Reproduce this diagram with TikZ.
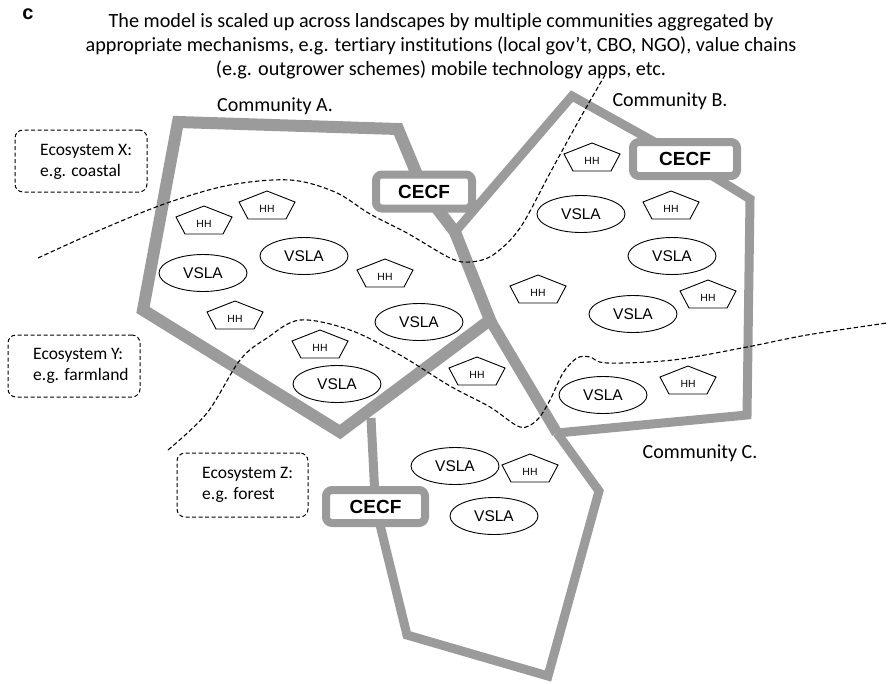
\documentclass[tikz,border=0pt]{standalone}
\usepackage{fontspec}
\setmainfont{Carlito}[Ligatures=NoCommon]
\newfontfamily\arialf{Liberation Sans}
\usetikzlibrary{shapes.geometric}
\pgfdeclarelayer{background}
\pgfsetlayers{background,main}
\definecolor{commgray}{RGB}{155,155,155}
\begin{document}
\begin{tikzpicture}[x=1pt,y=-1pt,
  titletxt/.style={font=\fontsize{20.2}{24}\selectfont, align=center, inner sep=0pt},
  commtxt/.style={font=\fontsize{20}{22}\selectfont, inner sep=0pt},
  ecobox/.style={draw, line width=1pt, dash pattern=on 4pt off 2.5pt, rounded corners=8pt, minimum width=132pt, minimum height=62pt, inner sep=0pt},
  ecotxt/.style={font=\fontsize{17.5}{20.5}\selectfont, align=left, inner sep=0pt, anchor=west},
  ecoline/.style={line width=1.1pt, dash pattern=on 4.5pt off 2.5pt},
  vsla/.style={ellipse, draw, line width=0.9pt, fill=white, minimum width=88pt, minimum height=37pt, inner sep=0pt, font=\arialf\fontsize{15.5}{18}\selectfont},
  hhtxt/.style={font=\arialf\fontsize{10.4}{12}\selectfont, inner sep=0pt},
  cecf/.style={draw=commgray, line width=8pt, fill=white, rounded corners=6pt, minimum width=96pt, minimum height=34pt, inner sep=0pt, font=\arialf\bfseries\fontsize{19}{22}\selectfont},
  bigline/.style={draw=commgray, line width=12pt, line join=miter},
  midline/.style={draw=commgray, line width=9pt, line join=miter},
  hhpent/.pic={
    \path[draw=black, line width=0.9pt, fill=white] (0,-18)--(28,-7)--(19,10)--(-19,10)--(-28,-7)--cycle;
    \node[hhtxt] (-t) at (0,0) {HH};
  }
]
\useasboundingbox (0,0) rectangle (888,683);

% panel letter and title
\node[font=\arialf\bfseries\fontsize{20}{22}\selectfont, inner sep=0pt] (lc) at (28,14) {c};
\node[titletxt] (title) at (441,46) {The model is scaled up across landscapes by multiple communities aggregated by\\appropriate mechanisms, e.g. tertiary institutions (local gov't, CBO, NGO), value chains\\(e.g. outgrower schemes) mobile technology apps, etc.};

% community labels
\node[commtxt] (ca-l) at (275,106) {Community A.};
\node[commtxt] (cb-l) at (670,101) {Community B.};
\node[commtxt] (cc-l) at (700,453) {Community C.};

% ecosystem boxes
\node[ecobox] (ex) at (81,161) {};
\node[ecotxt] (ex-t) at (40,162) {Ecosystem X:\\e.g. coastal};
\node[ecobox] (ey) at (74,366) {};
\node[ecotxt] (ey-t) at (33,366) {Ecosystem Y:\\e.g. farmland};
\node[ecobox, minimum width=131pt, minimum height=64pt] (ez) at (242.5,485) {};
\node[ecotxt] (ez-t) at (202,485) {Ecosystem Z:\\e.g. forest};

% CECF boxes
\node[cecf] (cfa) at (424,191.5) {CECF};
\node[cecf, minimum width=104pt] (cfb) at (685,159) {CECF};
\node[cecf, minimum width=99pt, minimum height=33pt] (cfc) at (375.5,506.5) {CECF};

% polygon vertices
\coordinate (a1) at (178,122);
\coordinate (a2) at (398,129);
\coordinate (j1) at (455,232);
\coordinate (j2) at (490,320);
\coordinate (a5) at (340,432);
\coordinate (a6) at (143,310);
\coordinate (b1) at (572,96);
\coordinate (b3) at (750,199);
\coordinate (b4) at (747,415);
\coordinate (j3) at (557,433);
\coordinate (c0) at (371,418);
\coordinate (c2) at (407,635);
\coordinate (c3) at (548,676);
\coordinate (c4) at (599,491);

\begin{pgfonlayer}{background}
\draw[bigline] (a1) -- (a2) -- (cfa.center) -- (j1) -- (j2) -- (a5) -- (a6) -- cycle;
\draw[bigline, line width=11pt] (j2) -- (j3);
\draw[midline] (j1) -- (b1) -- (cfb.center) -- (b3) -- (b4) -- (j3);
\draw[midline] (c0) -- (cfc.center) -- (c2) -- (c3) -- (c4) -- (j3);
\end{pgfonlayer}

% ecosystem boundaries
\draw[ecoline] plot[smooth, tension=0.55] coordinates {(38,258) (100,230) (167,203) (230,185) (290,180) (335,192) (370,214) (407,233) (450,258) (470,262) (493,255) (520,228) (550,173) (578,122) (605,75)};
\draw[ecoline] plot[smooth, tension=0.55] coordinates {(168,450) (207,413) (240,360) (267,338) (300,320) (350,330) (400,355) (450,386) (490,407) (520,427) (537,420) (550,400) (563,373) (577,358) (590,357) (607,363) (673,360) (747,347) (807,335) (887,323)};

% VSLA groups
\node[vsla] (v1) at (203,273) {VSLA};
\node[vsla] (v2) at (304,256) {VSLA};
\node[vsla] (v3) at (419,322) {VSLA};
\node[vsla] (v4) at (337,384) {VSLA};
\node[vsla] (v5) at (581,214) {VSLA};
\node[vsla] (v6) at (672,256) {VSLA};
\node[vsla] (v7) at (633,314) {VSLA};
\node[vsla] (v8) at (603,395) {VSLA};
\node[vsla] (v9) at (455,466) {VSLA};
\node[vsla] (v10) at (494,516) {VSLA};

% households
\pic (h1) at (204,224) {hhpent};
\pic (h2) at (267,209) {hhpent};
\pic (h3) at (385,277) {hhpent};
\pic (h4) at (235,319) {hhpent};
\pic (h5) at (320,348) {hhpent};
\pic (h6) at (592,161) {hhpent};
\pic (h7) at (671,209) {hhpent};
\pic (h8) at (538,293) {hhpent};
\pic (h9) at (708,298) {hhpent};
\pic (h10) at (477,375) {hhpent};
\pic (h11) at (688,384) {hhpent};
\pic (h12) at (530,472) {hhpent};
\end{tikzpicture}
\end{document}
